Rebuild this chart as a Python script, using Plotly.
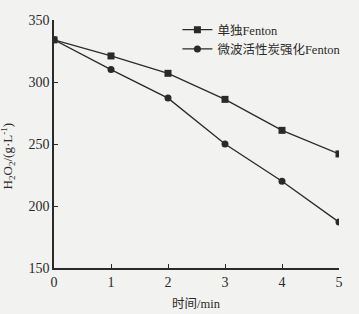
import plotly.graph_objects as go

time_min = [0, 1, 2, 3, 4, 5]
fenton_alone = [334, 321, 307, 286, 261, 242]
fenton_mw_ac = [334, 310, 287, 250, 220, 187]
series_names = ["单独Fenton", "微波活性炭强化Fenton"]
x_ticks = [0, 1, 2, 3, 4, 5]
y_ticks = [150, 200, 250, 300, 350]

FONT = "Liberation Serif, Noto Sans CJK SC, serif"
INK = "#2a2a2a"
BG = "#f2f2f0"

fig = go.Figure()
fig.add_trace(go.Scatter(x=time_min, y=fenton_alone, name=series_names[0], mode="lines+markers",
                         line=dict(color=INK, width=1.3),
                         marker=dict(symbol="square", size=7, color=INK)))
fig.add_trace(go.Scatter(x=time_min, y=fenton_mw_ac, name=series_names[1], mode="lines+markers",
                         line=dict(color=INK, width=1.3),
                         marker=dict(symbol="circle", size=7, color=INK)))

axis_common = dict(showgrid=False, zeroline=False, showline=True, linecolor=INK, linewidth=1.5,
                   ticks="inside", ticklen=4, tickcolor=INK, tickwidth=1.2,
                   tickfont=dict(family=FONT, size=14, color=INK))
fig.update_xaxes(range=[0, 5], tickvals=x_ticks, **axis_common)
fig.update_yaxes(range=[150, 350], tickvals=y_ticks, **axis_common)

fig.update_layout(
    width=359, height=314,
    margin=dict(l=54, r=20, t=20, b=46),
    paper_bgcolor=BG, plot_bgcolor=BG,
    font=dict(family=FONT, color=INK),
    showlegend=True,
    legend=dict(x=0.433, y=1.02, xanchor="left", yanchor="top", bgcolor="rgba(0,0,0,0)",
                font=dict(family=FONT, size=12.5, color=INK), tracegroupgap=0),
    annotations=[
        dict(text="时间/min", xref="paper", yref="paper", x=0.5, y=0, yshift=-36,
             showarrow=False, xanchor="center", yanchor="middle",
             font=dict(family=FONT, size=12.5, color=INK)),
        dict(text="H<sub>2</sub>O<sub>2</sub>/(g·L<sup>-1</sup>)", xref="paper", yref="paper",
             x=0, xshift=-46, y=0.45, textangle=-90, showarrow=False,
             xanchor="center", yanchor="middle",
             font=dict(family=FONT, size=13, color=INK)),
    ],
)

fig.write_html("out.html")
